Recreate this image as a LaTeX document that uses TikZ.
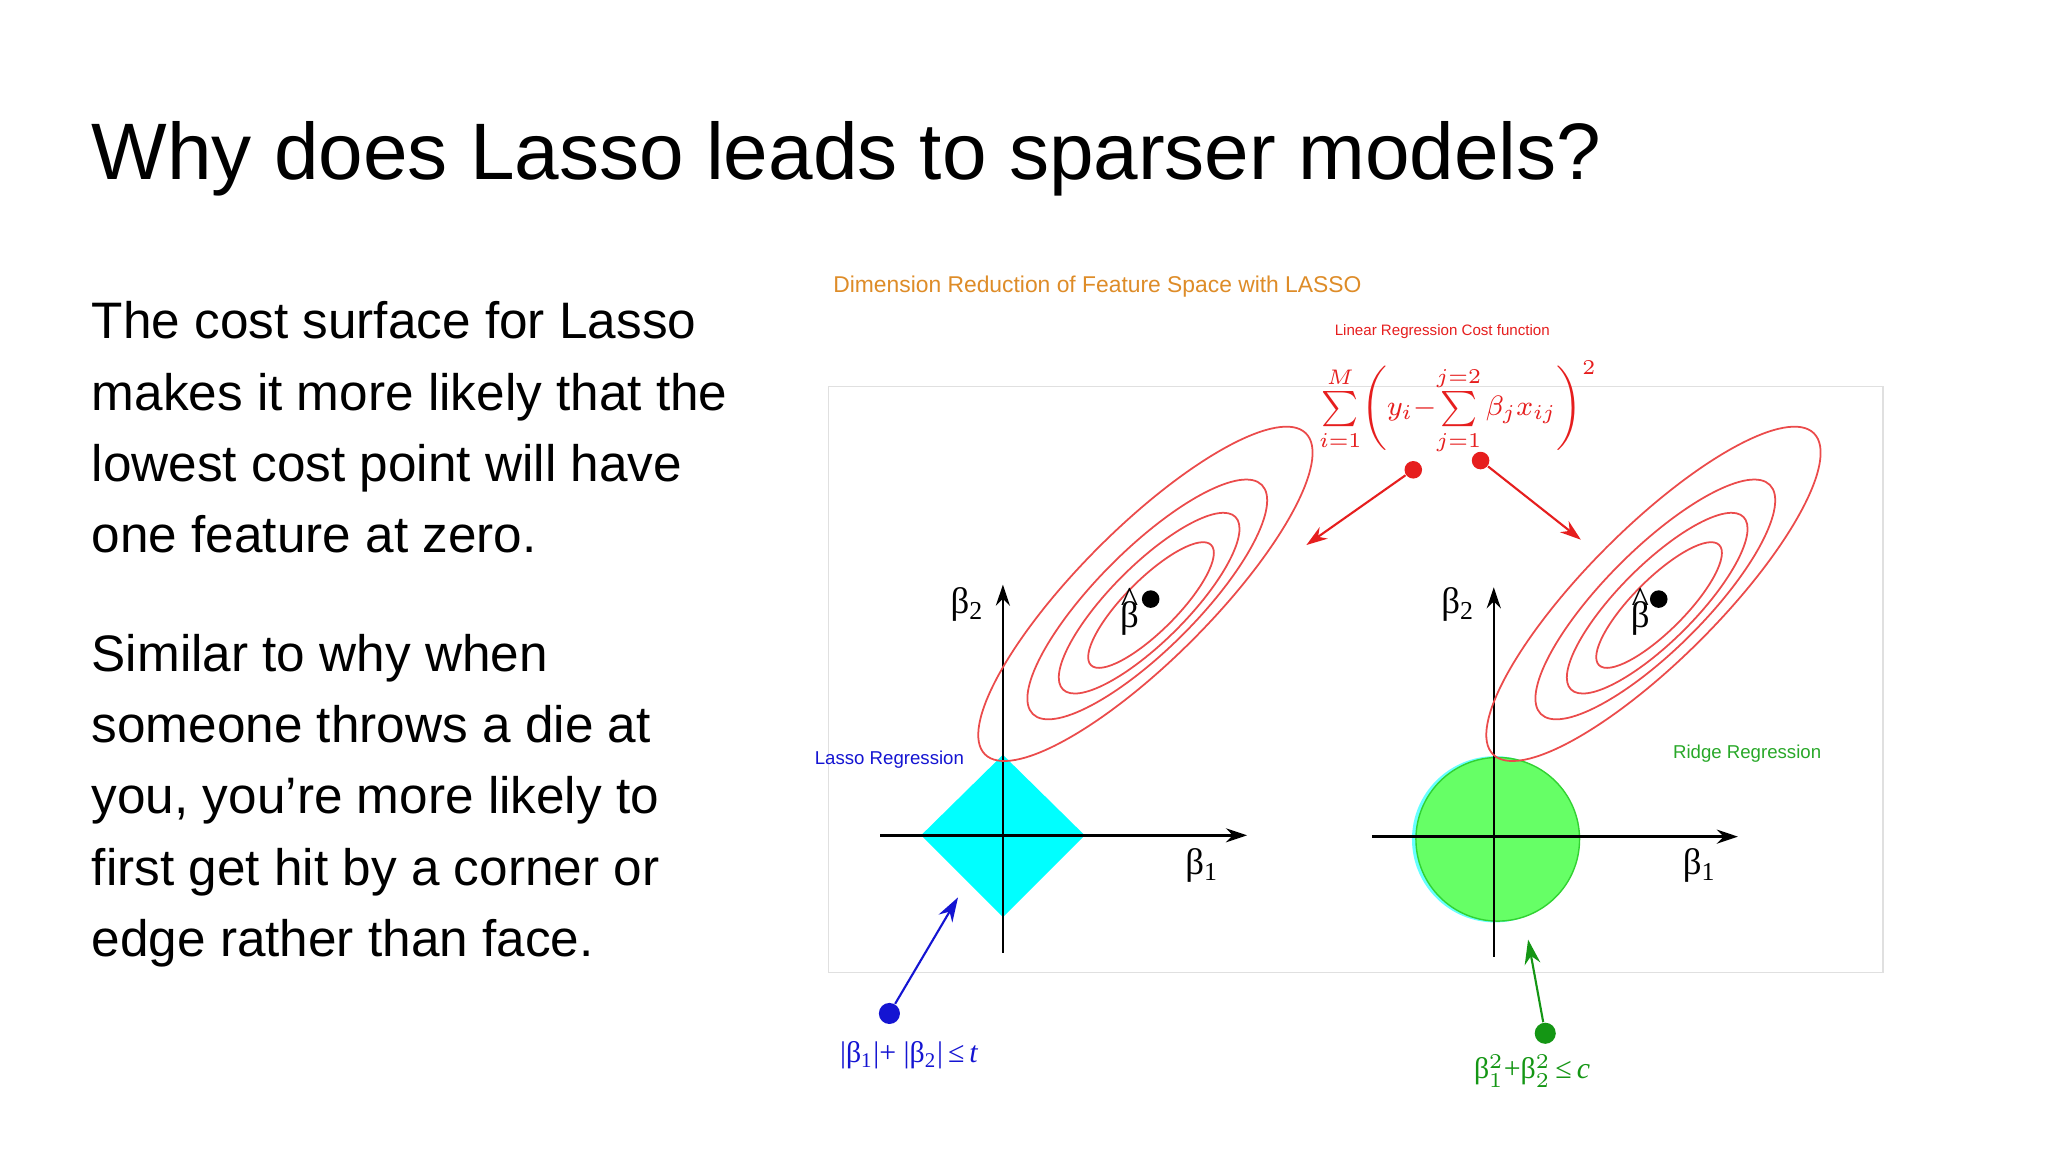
\documentclass[tikz,border=0pt]{standalone}
\usepackage{fontspec}
\setmainfont{Liberation Sans}
\newfontfamily\serif{Liberation Serif}
\usetikzlibrary{arrows.meta,calc}
\definecolor{orng}{RGB}{222,140,40}
\definecolor{rd}{RGB}{230,30,30}
\definecolor{bl}{RGB}{20,20,210}
\definecolor{gr}{RGB}{20,150,20}
\definecolor{lgr}{RGB}{50,210,50}
\definecolor{cy}{RGB}{0,255,255}
\definecolor{grf}{RGB}{102,255,102}
\newcommand{\bhat}{\ooalign{β\cr\hidewidth\raisebox{0.42em}{\^{}}\hidewidth\cr}}
\begin{document}
\begin{tikzpicture}[x=0.013196cm,y=-0.013196cm,
  axis/.style={line width=0.7pt,-{Stealth[length=6pt,width=4pt]}},
  ell/.style={draw=rd!80,line width=0.5pt},
  lab/.style={font=\serif\fontsize{10.5}{11}\selectfont},
  body/.style={font=\fontsize{14.6}{20.3}\selectfont,align=left,anchor=north west,inner sep=0},
  dotn/.style={circle,fill,inner sep=0,minimum size=7pt}]
\useasboundingbox[fill=white] (0,0) rectangle (1552,873);
\node[anchor=west,inner sep=0,font=\fontsize{22.8}{23}\selectfont] (title) at (69,120) {Why does Lasso leads to sparser models?};
\node[body] (t1) at (69,228) {The cost surface for Lasso\\makes it more likely that the\\lowest cost point will have\\one feature at zero.};
\node[body] (t2) at (69,480) {Similar to why when\\someone throws a die at\\you, you’re more likely to\\first get hit by a corner or\\edge rather than face.};
\node[anchor=west,inner sep=0,text=orng,font=\fontsize{6.5}{7}\selectfont] (hd) at (631,217) {Dimension Reduction of Feature Space with LASSO};
\node[inner sep=0,text=rd,font=\fontsize{4.3}{5}\selectfont] (lr) at (1093,251) {Linear Regression Cost function};
\draw[black!12,line width=0.4pt] (628,293) rectangle (1427,737);
% left plot
\coordinate (L) at (760,633);
\fill[cy] (698,633) -- (760,572) -- (822,633) -- (760,695) -- cycle;
\draw[axis] (667,633) -- (945,633);
\draw[axis] (760,722) -- (760,443);
\coordinate (Le) at (868,450);
\foreach \a/\b/\dx/\dy in {2.27/0.66/0/0, 1.62/0.5/-2/4, 1.22/0.38/-3/7, 0.85/0.26/-3/9}
  \draw[ell,rotate around={45:($(Le)+(\dx,\dy)$)}] ($(Le)+(\dx,\dy)$) ellipse ({\a cm} and {\b cm});
% right plot
\coordinate (R) at (1133,636);
\fill[cy!60] (1133,636) circle (63);
\fill[grf,draw=lgr,line width=0.4pt] (1135,636) circle (62);
\draw[axis] (1040,634) -- (1317,634);
\draw[axis] (1132,725) -- (1132,445);
\coordinate (Re) at (1253,450);
\foreach \a/\b/\dx/\dy in {2.27/0.66/0/0, 1.62/0.5/-2/4, 1.22/0.38/-3/7, 0.85/0.26/-3/9}
  \draw[ell,rotate around={45:($(Re)+(\dx,\dy)$)}] ($(Re)+(\dx,\dy)$) ellipse ({\a cm} and {\b cm});
% labels
\node[lab] (b2l) at (733,458) {β\textsubscript{2}};
\node[lab] (b1l) at (911,656) {β\textsubscript{1}};
\node[lab] (b2r) at (1105,458) {β\textsubscript{2}};
\node[lab] (b1r) at (1288,656) {β\textsubscript{1}};
\node[dotn,minimum size=5pt] (hl) at (872,454) {};
\node[lab,inner sep=0] (bhl) at (856,466) {\bhat};
\node[dotn,minimum size=5pt] (hr) at (1257,454) {};
\node[lab,inner sep=0] (bhr) at (1243,466) {\bhat};
\node[text=bl,font=\fontsize{5.3}{6}\selectfont] (lasso) at (674,576) {Lasso Regression};
\node[text=lgr!80!black,font=\fontsize{5.3}{6}\selectfont] (ridge) at (1324,571) {Ridge Regression};
% cost formula
\node[text=rd,font=\fontsize{8}{9}\selectfont,inner sep=0] (cost) at (1105,309)
  {$\textstyle\sum\limits_{i=1}^{M}\!\left(y_i{-}\!\sum\limits_{j=1}^{j=2}\mathrm{\beta}_j x_{ij}\right)^{2}$};
\node[dotn,fill=rd,minimum size=5pt] (r1) at (1071,356) {};
\node[dotn,fill=rd,minimum size=5pt] (r2) at (1122,349) {};
\coordinate (r1e) at (990,413);
\coordinate (r2e) at (1198,409);
\draw[rd,line width=0.6pt,-{Stealth[length=6pt,width=4pt]}] (r1) -- (r1e);
\draw[rd,line width=0.6pt,-{Stealth[length=6pt,width=4pt]}] (r2) -- (r2e);
% blue
\node[dotn,fill=bl,minimum size=6pt] (bd) at (674,768) {};
\coordinate (bde) at (726,680);
\draw[bl,line width=0.6pt,-{Stealth[length=7pt,width=4.5pt]}] (bd) -- (bde);
\node[text=bl,font=\serif\fontsize{8.5}{9}\selectfont] (bf) at (689,800) {|β\textsubscript{1}|+ |β\textsubscript{2}|\,≤\,\textit{t}};
% green
\node[dotn,fill=gr,minimum size=6pt] (gd) at (1171,783) {};
\coordinate (gde) at (1158,712);
\draw[gr,line width=0.6pt,-{Stealth[length=7pt,width=4.5pt]}] (gd) -- (gde);
\node[text=gr,font=\serif\fontsize{8.5}{9}\selectfont] (gf) at (1161,812) {β$^2_1$+β$^2_2$\,≤\,\textit{c}};
\end{tikzpicture}
\end{document}
